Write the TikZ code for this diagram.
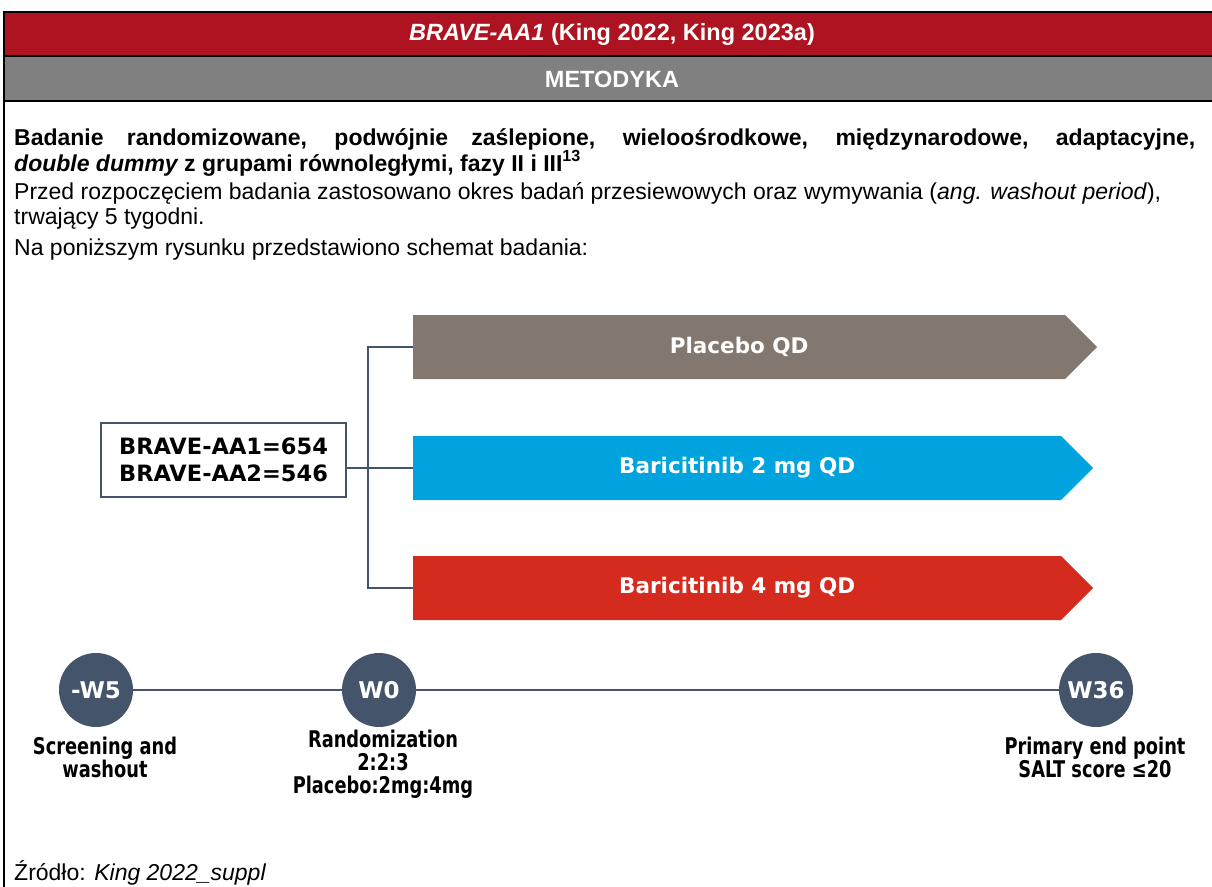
\documentclass[tikz,border=0pt]{standalone}
\usepackage{fontspec}
\setmainfont{Liberation Sans}
\newfontfamily\vfont{DejaVu Sans}
\newfontfamily\vcfont[FakeStretch=0.86]{DejaVu Sans Condensed}
\usetikzlibrary{shapes.symbols}
\definecolor{bandred}{HTML}{AD1320}
\definecolor{bandgray}{HTML}{808080}
\definecolor{placebo}{HTML}{82786F}
\definecolor{bariblue}{HTML}{00A3DD}
\definecolor{barired}{HTML}{D52B1E}
\definecolor{slate}{HTML}{44546A}
\begin{document}
\begin{tikzpicture}[x=1pt,y=-1pt,
  bandtext/.style={text=white,font=\bfseries\fontsize{23.5}{26}\selectfont},
  bodytext/.style={anchor=base west,inner sep=0,font=\fontsize{23}{27}\selectfont},
  arm/.style={signal,signal to=east,signal from=nowhere,signal pointer angle=90,
    minimum height=64pt,minimum width=684pt,inner sep=0,anchor=west,
    text=white,font=\vfont\bfseries\fontsize{21.5}{25}\selectfont},
  mile/.style={circle,fill=slate,minimum size=74pt,inner sep=0,
    text=white,font=\vfont\bfseries\fontsize{23}{26}\selectfont},
  milenote/.style={align=center,anchor=north,inner sep=0,
    font=\vcfont\bfseries\fontsize{23}{23}\selectfont},
  conn/.style={draw=slate,line width=1.3pt},
  rule/.style={draw=black,line width=2.6pt}]
\useasboundingbox (0,0) rectangle (1212,886);

% header bands
\fill[bandred] (4,12) rectangle (1214,56);
\fill[bandgray] (4,56) rectangle (1214,101);
\draw[rule] (2.7,12) -- (1214,12);
\draw[rule] (2.7,56) -- (1214,56);
\draw[rule] (2.7,101) -- (1214,101);
\draw[rule] (4,10.7) -- (4,888);
\node[bandtext] (title) at (612,34.5) {\textit{BRAVE-AA1} (King 2022, King 2023a)};
\node[bandtext] (method) at (612,79) {METODYKA};

% description
\node[bodytext] (d1) at (14,145) {\bfseries\makebox[1181pt][s]{Badanie randomizowane, podwójnie zaślepione, wieloośrodkowe, międzynarodowe, adaptacyjne,}};
\node[bodytext] (d2) at (14,171) {\bfseries\itshape double dummy\upshape{} z grupami równoległymi, fazy II i III\textsuperscript{13}};
\node[bodytext] (d3) at (14,199) {Przed rozpoczęciem badania zastosowano okres badań przesiewowych oraz wymywania (\textit{ang. washout period}),};
\node[bodytext] (d4) at (14,224) {trwający 5 tygodni.};
\node[bodytext] (d5) at (14,255) {Na poniższym rysunku przedstawiono schemat badania:};

% treatment arms
\node[arm,fill=placebo] (pl) at (413,347) {Placebo QD};
\node[arm,fill=bariblue,minimum width=680pt] (b2) at (413,468) {Baricitinib 2 mg QD};
\node[arm,fill=barired,minimum width=680pt] (b4) at (413,588) {Baricitinib 4 mg QD};

% population box
\node[draw=slate,line width=1.2pt,minimum width=245pt,minimum height=74pt,align=left,
  font=\vfont\bfseries\fontsize{22.5}{27}\selectfont] (pop) at (223.5,460) {BRAVE-AA1=654\\BRAVE-AA2=546};
\coordinate (split) at (368,468);
\draw[conn] (pop.east |- b2.west) -- (b2.west);
\draw[conn] (pl.west) -| (split) |- (b4.west);

% timeline
\node[mile] (m1) at (96,690) {-W5};
\node[mile] (m2) at (379,690) {W0};
\node[mile] (m3) at (1096,690) {W36};
\draw[conn] (m1) -- (m2);
\draw[conn] (m2) -- (m3);
\node[milenote] (n1) at (105,737) {Screening and\\washout};
\node[milenote] (n2) at (383,730) {Randomization\\2:2:3\\Placebo:2mg:4mg};
\node[milenote] (n3) at (1095,737) {Primary end point\\SALT score ≤20};

% source
\node[bodytext] (src) at (14,880) {Źródło: \textit{King 2022\_suppl}};
\end{tikzpicture}
\end{document}
